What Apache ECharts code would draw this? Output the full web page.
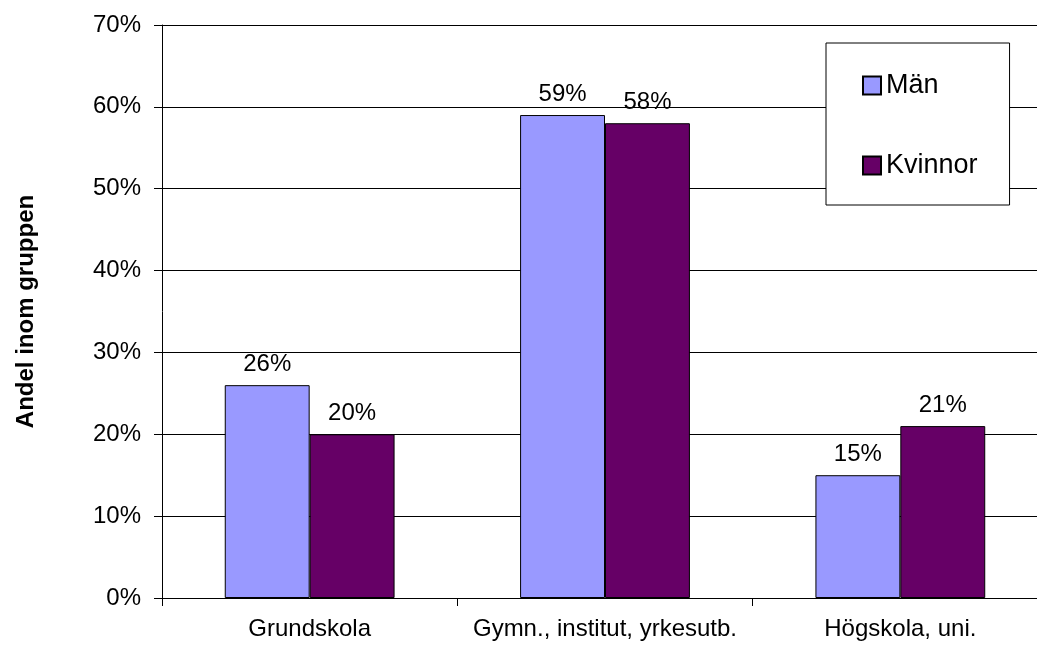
<!DOCTYPE html>
<html>
<head>
<meta charset="utf-8">
<title>Andel inom gruppen</title>
<script src="https://cdn.jsdelivr.net/npm/echarts@6/dist/echarts.min.js"></script>
<style>
  html, body { margin: 0; padding: 0; background: #fff; overflow: hidden; }
  #chart { width: 1037px; height: 646px; }
</style>
</head>
<body>
<div id="chart"></div>
<script>
// Education level categories
const categories = ['Grundskola', 'Gymn., institut, yrkesutb.', 'Högskola, uni.'];
// Share within each group, percent
const manValues = [26, 59, 15];
const kvinnorValues = [20, 58, 21];
const seriesNames = ['Män', 'Kvinnor'];

const FONT = "'Liberation Sans', Arial, sans-serif";

const chart = echarts.init(document.getElementById('chart'), null, { renderer: 'canvas' });

const labelStyle = {
  show: true,
  position: 'top',
  distance: 9,
  formatter: '{c}%',
  color: '#000',
  fontFamily: FONT,
  fontSize: 24
};

chart.setOption({
  animation: false,
  backgroundColor: '#fff',
  // plot area runs slightly past the right edge of the canvas
  grid: { left: 162, width: 886, top: 25, bottom: 48, containLabel: false, outerBoundsMode: 'none' },
  legend: {
    orient: 'vertical',
    left: 826,
    top: 43,
    padding: [29, 32, 26, 36],
    itemWidth: 18,
    itemHeight: 18,
    itemGap: 53,
    itemTextGap: 8,
    icon: 'rect',
    backgroundColor: '#fff',
    borderColor: '#000',
    borderWidth: 1,
    textStyle: { color: '#000', fontFamily: FONT, fontSize: 27, lineHeight: 27 },
    data: seriesNames
  },
  xAxis: {
    type: 'category',
    data: categories,
    axisLine: { lineStyle: { color: '#000', width: 1 } },
    axisTick: { show: true, interval: 0, length: 8, lineStyle: { color: '#000' } },
    axisLabel: { interval: 0, color: '#000', fontFamily: FONT, fontSize: 24, margin: 19 },
    splitLine: { show: false }
  },
  yAxis: {
    type: 'value',
    min: 0,
    max: 70,
    interval: 10,
    name: 'Andel inom gruppen',
    nameLocation: 'middle',
    nameGap: 124,
    nameTextStyle: { color: '#000', fontFamily: FONT, fontSize: 24, fontWeight: 'bold' },
    axisLine: { show: true, lineStyle: { color: '#000', width: 1 } },
    axisTick: { show: true, length: 8, lineStyle: { color: '#000' } },
    axisLabel: { color: '#000', fontFamily: FONT, fontSize: 24, margin: 21, formatter: '{value}%' },
    splitLine: { show: true, lineStyle: { color: '#000', width: 1 } }
  },
  series: [
    {
      name: seriesNames[0],
      type: 'bar',
      data: manValues,
      barGap: '0%',
      barCategoryGap: '42.5%',
      itemStyle: { color: '#9999FF', borderColor: '#000', borderWidth: 1 },
      label: labelStyle
    },
    {
      name: seriesNames[1],
      type: 'bar',
      data: kvinnorValues,
      barGap: '0%',
      barCategoryGap: '42.5%',
      itemStyle: { color: '#660066', borderColor: '#000', borderWidth: 1 },
      label: labelStyle
    }
  ]
});
</script>
</body>
</html>
